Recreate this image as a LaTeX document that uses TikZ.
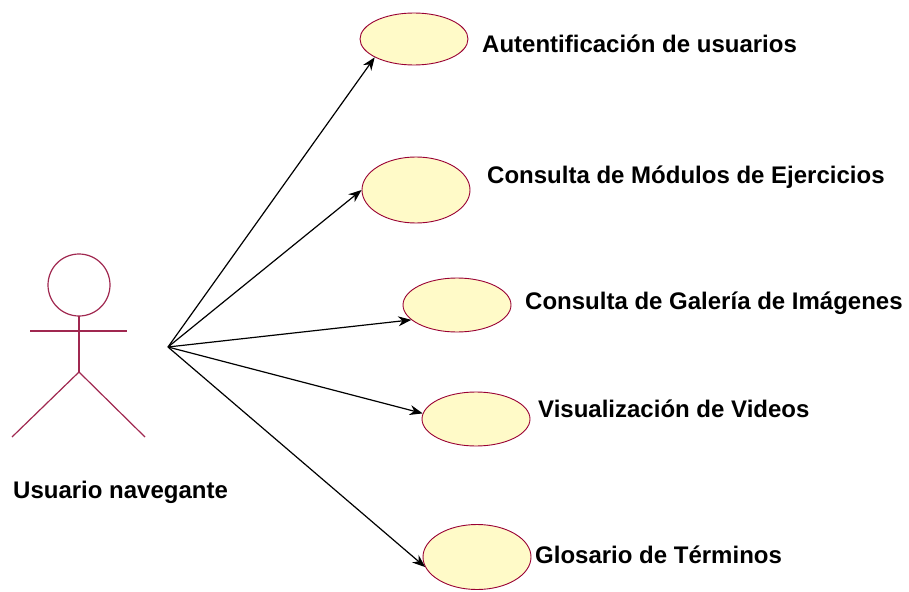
\documentclass[tikz,border=0pt]{standalone}
\usepackage{fontspec}
\setmainfont{Liberation Sans}
\usepackage{tikz}
\usetikzlibrary{arrows.meta,shapes,positioning}
\definecolor{ucmaroon}{RGB}{153,0,51}
\definecolor{ucactor}{RGB}{160,40,80}
\definecolor{ucfill}{RGB}{255,250,200}
\tikzstyle{arrow} = [line width=1.2pt,-{Stealth[length=13pt,width=10pt]},color=black]
\tikzstyle{usecase} = [ellipse, minimum width=108pt, minimum height=54pt, inner sep=0pt, draw=ucmaroon, fill=ucfill, line width=0.9pt]
\tikzstyle{uclabel} = [anchor=base west, inner sep=0pt, font=\fontsize{24}{28}\selectfont\bfseries]
\tikzstyle{actorline} = [draw=ucactor, line width=1.2pt]

\begin{document}
\begin{tikzpicture}[x=1pt,y=-1pt]
\useasboundingbox (0,0) rectangle (909,591);
% Actor
\draw[actorline] (79,285) circle (31);
\draw[actorline] (30,331) -- (127,331);
\draw[actorline] (79,316) -- (79,372);
\draw[actorline] (12,437) -- (79,372) -- (145,437);
\coordinate (usr) at (168,347);
\node[uclabel] (actorname) at (13,498) {Usuario navegante};
% Use cases
\node[usecase, minimum height=52pt] (auth) at (414,39) {};
\node[usecase, minimum height=66pt] (modulos) at (416,190) {};
\node[usecase] (galeria) at (457,305) {};
\node[usecase] (videos) at (476,419) {};
\node[usecase, minimum height=65pt] (glosario) at (477,557) {};
% Labels
\node[uclabel] (authtxt) at (482,53) {Autentificación de usuarios};
\node[uclabel] (modulostxt) at (487,183) {Consulta de Módulos de Ejercicios};
\node[uclabel] (galeriatxt) at (525,309) {Consulta de Galería de Imágenes};
\node[uclabel] (videostxt) at (538,417) {Visualización de Videos};
\node[uclabel] (glosariotxt) at (535,563) {Glosario de Términos};

\draw[arrow] (usr) -- (auth.205);
\draw[arrow] (usr) -- (modulos.west);
\draw[arrow] (usr) -- (galeria.198);
\draw[arrow] (usr) -- (videos.174);
\draw[arrow] (usr) -- (glosario.191);
\end{tikzpicture}
\end{document}
